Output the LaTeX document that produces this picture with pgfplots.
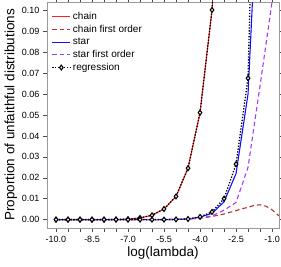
\documentclass[border=0pt]{standalone}
\usepackage{fontspec}
\setmainfont{Liberation Sans}
\usepackage{pgfplots}
\pgfplotsset{compat=1.18}
\definecolor{cchain}{HTML}{FF2020}
\definecolor{cchainfo}{HTML}{B8302A}
\definecolor{cstar}{HTML}{1010FF}
\definecolor{cstarfo}{HTML}{A43CF0}
\definecolor{axgray}{HTML}{9A9A9A}
\newcommand{\lf}{\fontsize{10}{12}\selectfont}
\begin{document}
\begin{tikzpicture}
\begin{axis}[
  scale only axis, width=232pt, height=226pt,
  xmin=-10.375, xmax=-0.71, ymin=-0.004, ymax=0.104,
  axis line style={axgray, line width=0.8pt},
  tick style={black!70, line width=0.5pt},
  tick align=outside, major tick length=4pt, minor tick length=4pt,
  xtick={-10,-8.5,-7,-5.5,-4,-2.5,-1},
  xticklabels={-10.0,-8.5,-7.0,-5.5,-4.0,-2.5,-1.0},
  minor xtick={-9.5,-9,-8,-7.5,-6.5,-6,-5,-4.5,-3.5,-3,-2,-1.5},
  ytick={0,0.01,0.02,0.03,0.04,0.05,0.06,0.07,0.08,0.09,0.1},
  yticklabels={0.00,0.01,0.02,0.03,0.04,0.05,0.06,0.07,0.08,0.09,0.10},
  ticklabel style={font=\fontsize{9}{10}\selectfont},
  xticklabel style={yshift=-1pt},
  xlabel={log(lambda)}, ylabel={Proportion of unfaithful distributions},
  label style={font=\fontsize{13.5}{15}\selectfont},
  xlabel style={yshift=3pt},
  ylabel style={yshift=-2pt},
  legend style={at={(0.014,0.97)}, anchor=north west, draw=none, fill=none,
    font=\lf, row sep=0.2pt, inner sep=1.2pt},
  legend cell align=left,
  legend image code/.code={\draw[mark repeat=2,mark phase=2,#1] plot coordinates {(0pt,0pt) (9pt,0pt) (18pt,0pt)};},
  clip=true,
]
\addplot[cchain, line width=1.1pt] coordinates {
(-10,0) (-9.5,0) (-9,0) (-8.5,0) (-8,0) (-7.5,0.0001) (-7,0.0002) (-6.5,0.0008) (-6,0.0021) (-5.5,0.0051) (-5,0.0111) (-4.5,0.0246) (-4,0.0511) (-3.5,0.1002) (-3,0.19)};
\addlegendentry{\lf chain}
\addplot[cchainfo, line width=1.1pt, dash pattern=on 4.5pt off 3pt] coordinates {
(-10,0) (-9,0) (-8,0) (-7,0) (-6,0) (-5,0.0001) (-4.5,0.0003) (-4,0.0007) (-3.5,0.0015) (-3,0.0027) (-2.5,0.0043) (-2.25,0.0052) (-2,0.0059) (-1.75,0.0068) (-1.5,0.0071) (-1.25,0.0064) (-1,0.0047) (-0.75,0.0022) (-0.5,0.0000)};
\addlegendentry{\lf chain first order}
\addplot[cstar, line width=1.1pt] coordinates {
(-10,0) (-9.5,0) (-9,0) (-8.5,0) (-8,0) (-7.5,0) (-7,0) (-6.5,0) (-6,0) (-5.5,0) (-5,0.0001) (-4.5,0.0003) (-4,0.0012) (-3.5,0.0030) (-3,0.0085) (-2.5,0.022) (-2,0.060) (-1.5,0.18)};
\addlegendentry{\lf star}
\addplot[cstarfo, line width=1.1pt, dash pattern=on 4.5pt off 3pt] coordinates {
(-10,0) (-9,0) (-8,0) (-7,0) (-6,0) (-5,0.0001) (-4.5,0.0003) (-4,0.0007) (-3.5,0.0018) (-3,0.0045) (-2.5,0.0082) (-2,0.025) (-1.5,0.064) (-1,0.104)};
\addlegendentry{\lf star first order}
\addplot[black, line width=1.3pt, dash pattern=on 1.3pt off 1.6pt, mark=diamond*, mark size=2.4pt, mark options={solid, fill=white, line width=1.1pt}] coordinates {
(-10,0) (-9.5,0) (-9,0) (-8.5,0) (-8,0) (-7.5,0.0001) (-7,0.0002) (-6.5,0.0008) (-6,0.0021) (-5.5,0.0051) (-5,0.0111) (-4.5,0.0246) (-4,0.0511) (-3.5,0.1002) (-3,0.19)};
\addlegendentry{\lf regression}
\addplot[black, line width=1.3pt, dash pattern=on 1.3pt off 1.6pt, mark=diamond*, mark size=2.4pt, mark options={solid, fill=white, line width=1.1pt}, forget plot] coordinates {
(-10,0) (-9.5,0) (-9,0) (-8.5,0) (-8,0) (-7.5,0) (-7,0) (-6.5,0) (-6,0) (-5.5,0) (-5,0.0001) (-4.5,0.0003) (-4,0.0013) (-3.5,0.0037) (-3,0.0100) (-2.5,0.0265) (-2,0.0676) (-1.5,0.29)};
\end{axis}
\pgfresetboundingbox
\useasboundingbox ([shift={(-47pt,-38pt)}]current axis.south west) rectangle ([shift={(2pt,2pt)}]current axis.north east);
\end{tikzpicture}
\end{document}
